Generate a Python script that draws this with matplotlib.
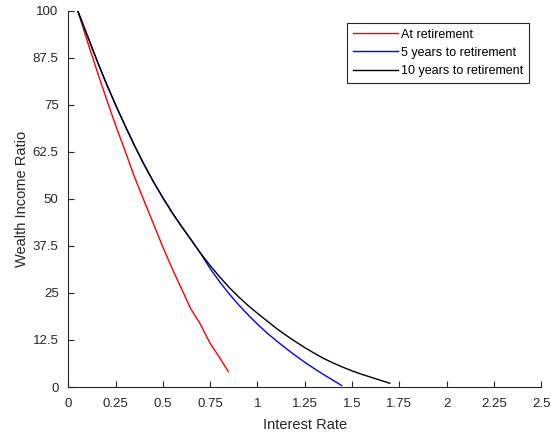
import matplotlib.pyplot as plt

# values
rate_ret = [0.05, 0.10, 0.15, 0.20, 0.25, 0.30, 0.35, 0.40, 0.45, 0.50, 0.55, 0.60,
            0.645, 0.695, 0.75, 0.80, 0.846]
ratio_ret = [100, 92.0, 84.3, 76.8, 69.6, 62.8, 55.8, 49.6, 43.4, 37.2, 31.4, 26.0,
             21.0, 17.0, 11.6, 7.8, 4.1]

rate_5y = [0.05, 0.10, 0.15, 0.20, 0.25, 0.30, 0.35, 0.40, 0.45, 0.50, 0.55, 0.60,
           0.65, 0.70, 0.75, 0.80, 0.85, 0.90, 0.95, 1.00, 1.05, 1.10, 1.15, 1.20,
           1.25, 1.30, 1.35, 1.40, 1.445]
ratio_5y = [100, 93.5, 87.0, 80.8, 75.0, 69.5, 64.2, 59.2, 54.6, 50.3, 46.3, 42.6,
            39.1, 35.5, 31.5, 28.0, 24.8, 21.9, 19.2, 16.7, 14.4, 12.3, 10.3, 8.4,
            6.6, 4.9, 3.3, 1.8, 0.4]

rate_10y = [0.05, 0.10, 0.15, 0.20, 0.25, 0.30, 0.35, 0.40, 0.45, 0.50, 0.55, 0.60,
            0.65, 0.70, 0.75, 0.80, 0.85, 0.90, 0.95, 1.00, 1.05, 1.10, 1.15, 1.20,
            1.25, 1.30, 1.35, 1.40, 1.45, 1.50, 1.55, 1.60, 1.65, 1.70]
ratio_10y = [100, 93.5, 87.0, 80.8, 75.0, 69.5, 64.2, 59.2, 54.6, 50.3, 46.3, 42.6,
             39.1, 35.5, 32.3, 29.3, 26.5, 24.0, 21.7, 19.6, 17.6, 15.6, 13.8, 12.1,
             10.5, 9.0, 7.6, 6.4, 5.3, 4.3, 3.4, 2.6, 1.8, 1.0]

x_ticks = [0, 0.25, 0.5, 0.75, 1, 1.25, 1.5, 1.75, 2, 2.25, 2.5]
x_labels = ["0", "0.25", "0.5", "0.75", "1", "1.25", "1.5", "1.75", "2", "2.25", "2.5"]
y_ticks = [0, 12.5, 25, 37.5, 50, 62.5, 75, 87.5, 100]
y_labels = ["0", "12.5", "25", "37.5", "50", "62.5", "75", "87.5", "100"]

plt.rcParams["font.family"] = ["Liberation Sans", "DejaVu Sans"]
grey = "#262626"

fig = plt.figure(figsize=(5.51, 4.37), dpi=100)
ax = fig.add_axes([0.124, 0.1144, 0.858, 0.8606])

ax.plot(rate_ret, ratio_ret, color="#ff0000", lw=1.0, label="At retirement")
ax.plot(rate_5y, ratio_5y, color="#0000ff", lw=1.0, label="5 years to retirement")
ax.plot(rate_10y, ratio_10y, color="#000000", lw=1.0, label="10 years to retirement")

ax.set_xlim(0, 2.5)
ax.set_ylim(0, 100)
ax.set_xticks(x_ticks, x_labels)
ax.set_yticks(y_ticks, y_labels)
ax.tick_params(direction="in", length=4, width=0.8, colors=grey, labelsize=9.5)
ax.tick_params(axis="x", pad=8)
ax.tick_params(axis="y", pad=7)
for s in ["top", "right"]:
    ax.spines[s].set_visible(False)
for s in ["left", "bottom"]:
    ax.spines[s].set_color(grey)
    ax.spines[s].set_linewidth(0.8)

ax.set_xlabel("Interest Rate", fontsize=10.5, color=grey, labelpad=6)
ax.set_ylabel("Wealth Income Ratio", fontsize=10.5, color=grey, labelpad=3)

leg = ax.legend(loc="upper right", bbox_to_anchor=(0.975, 0.968), fontsize=9,
                fancybox=False, framealpha=1, edgecolor=grey, borderpad=0.45,
                handlelength=3.6, handletextpad=0.3, labelspacing=0.5,
                borderaxespad=0)
leg.get_frame().set_linewidth(0.8)

fig.savefig("out.png", dpi=100)
